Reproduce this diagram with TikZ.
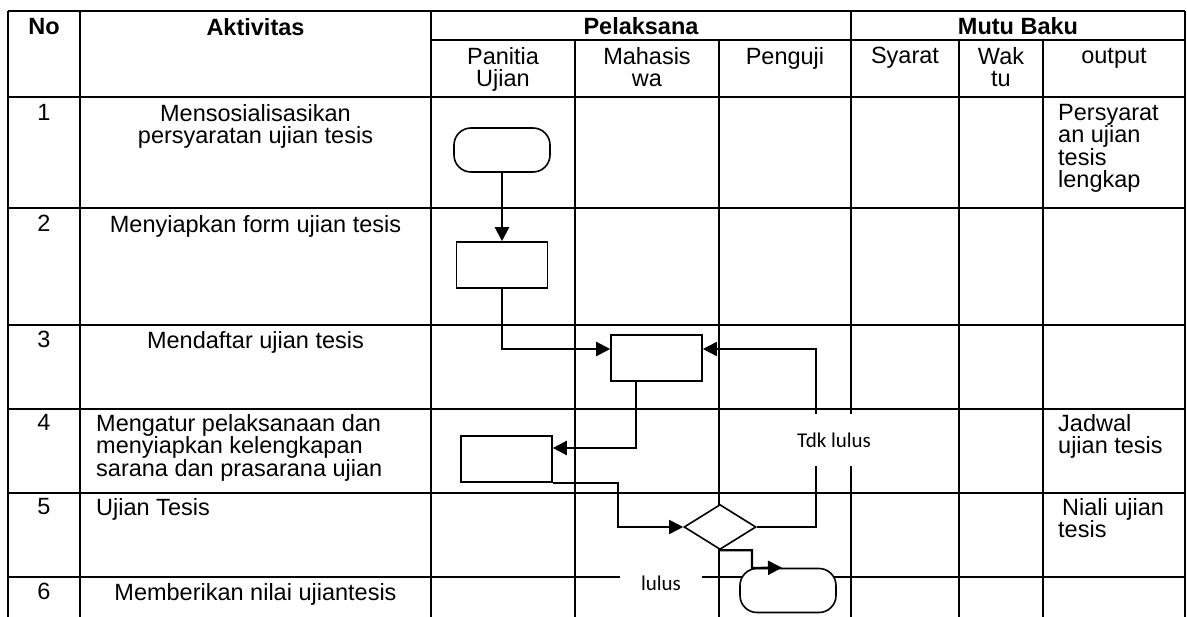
\documentclass[tikz,border=0pt]{standalone}
\usepackage{fontspec}
\setmainfont{Liberation Sans}
\newfontfamily\calibrifont{Carlito}
\usetikzlibrary{shapes.geometric,arrows.meta}
\begin{document}
\begin{tikzpicture}[x=1pt,y=-1pt,
  grid/.style={line width=1.4pt,black},
  shp/.style={draw,line width=1.6pt,fill=white,inner sep=0pt},
  term/.style={shp,rounded corners=17pt,minimum width=96pt,minimum height=44pt},
  proc/.style={shp,minimum width=91pt,minimum height=46pt},
  dec/.style={shp,diamond,minimum width=72pt,minimum height=45pt},
  conn/.style={line width=2.3pt,-{Triangle[length=14pt,width=14pt]}},
  connthin/.style={line width=1.6pt,-{Triangle[length=14pt,width=14pt]}},
  txt/.style={font=\fontsize{23.5}{22.5}\selectfont,inner sep=0pt,anchor=north},
  txtl/.style={txt,anchor=north west,align=left},
  txtc/.style={txt,align=center},
  hdr/.style={txt,font=\fontsize{23.5}{22.5}\selectfont\bfseries},
  lbl/.style={font=\calibrifont\fontsize{21}{24}\selectfont,fill=white,inner sep=0pt}
]
\useasboundingbox (0,0) rectangle (1187,617);

% ---- table grid ----
\draw[grid] (8,11) -- (1185,11);
\draw[grid] (431,40) -- (1185,40);
\foreach \yy in {97,208,325,409,493,577} \draw[grid] (8,\yy) -- (1185,\yy);
\foreach \xx in {8,80,431,851,1185} \draw[grid] (\xx,11) -- (\xx,617);
\foreach \xx in {575,719,959,1043} \draw[grid] (\xx,40) -- (\xx,617);

% ---- header ----
\node[hdr] (hNo) at (44,18) {No};
\node[hdr] (hAkt) at (255.5,18) {Aktivitas};
\node[hdr] (hPel) at (641,17) {Pelaksana};
\node[hdr] (hMutu) at (1018,17) {Mutu Baku};
\node[txtc] (hPan) at (503,47) {Panitia\\Ujian};
\node[txtc] (hMah) at (647,47) {Mahasis\\wa};
\node[txtc] (hPen) at (785,47) {Penguji};
\node[txtc] (hSya) at (905,47) {Syarat};
\node[txtc] (hWak) at (1001,47) {Wak\\tu};
\node[txtc] (hOut) at (1114,48) {output};

% ---- rows ----
\node[txt] (no1) at (44,104) {1};
\node[txtc] (ak1) at (255.5,104) {Mensosialisasikan\\persyaratan ujian tesis};
\node[txtl] (out1) at (1058,104) {Persyarat\\an ujian\\tesis\\lengkap};

\node[txt] (no2) at (44,215) {2};
\node[txtc] (ak2) at (255.5,215) {Menyiapkan form ujian tesis};

\node[txt] (no3) at (44,331) {3};
\node[txtc] (ak3) at (255.5,331) {Mendaftar ujian tesis};

\node[txt] (no4) at (44,414) {4};
\node[txtl] (ak4) at (96,414) {Mengatur pelaksanaan dan\\menyiapkan kelengkapan\\sarana dan prasarana ujian};
\node[txtl] (out4) at (1058,414) {Jadwal\\ujian tesis};

\node[txt] (no5) at (44,498) {5};
\node[txtl] (ak5) at (96,498) {Ujian Tesis};
\node[txtl] (out5) at (1058,498) {\hspace*{4pt}Niali ujian\\tesis};

\node[txt] (no6) at (44,583) {6};
\node[txtc] (ak6) at (255.5,583) {Memberikan nilai ujiantesis};

% ---- flow shapes ----
\node[term] (t1) at (502,150) {};
\node[proc] (r2) at (502,265) {};
\node[proc] (r3) at (656.5,358) {};
\node[proc] (r4) at (506.5,459) {};
\node[dec]  (d)  at (720,527) {};
\node[term] (t2) at (788,590.5) {};

\coordinate (k) at (618,500);
\coordinate (fb) at (816,349);
\coordinate (j) at (752,568);

% ---- connectors ----
\draw[conn] (t1.south) -- (r2.north);
\draw[conn] (r2.south) |- ([yshift=9pt]r3.west);
\draw[conn] ([xshift=-20.5pt]r3.south) |- ([yshift=11pt]r4.east);
\draw[connthin] (r4.south east) -- (r4.south east -| k) |- (d.west);
\draw[connthin] (d.east) -| (fb) -- ([yshift=9pt]r3.east);
\draw[conn] (d.south) -| (j) -- ([xshift=-6pt]t2.north);

% ---- labels ----
\node[lbl,minimum height=52pt,inner xsep=5pt] (tdk) at (834,440) {Tdk lulus};
\node[lbl,minimum height=22pt,minimum width=82pt] (lul) at (661,583) {lulus};
\end{tikzpicture}
\end{document}
